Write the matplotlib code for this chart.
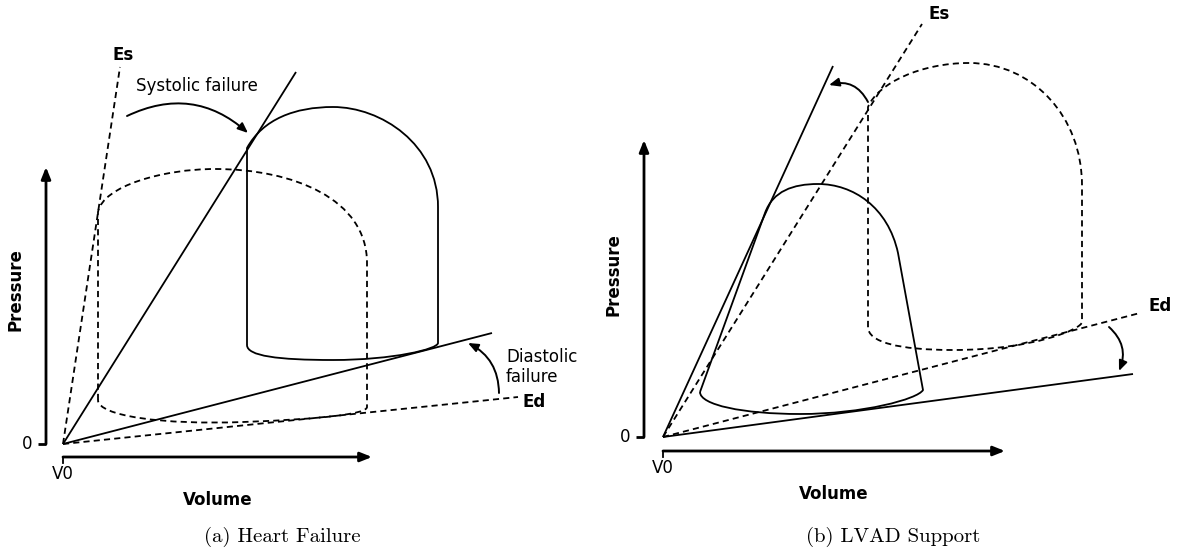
import matplotlib.pyplot as plt
from matplotlib.path import Path
from matplotlib.patches import PathPatch, FancyArrowPatch

# Coordinates are (volume, pressure) relative to (V0, 0), one unit per pixel.
# A loop is a start point followed by segments: one point = straight line,
# three points = cubic Bezier (two controls + end point).

# (a) Heart failure
hf_es_end = (57, 377)          # normal ESPVR (dashed)
hf_es_fail_end = (233, 372)    # depressed ESPVR (solid)
hf_ed_end = (455, 47)          # normal EDPVR (dashed)
hf_ed_fail_end = (429, 111)    # stiffer EDPVR (solid)
hf_normal_loop = [(35, 44),
                  [(35, 232)],
                  [(40, 258), (100, 275), (152, 275)],
                  [(230, 275), (304, 245), (304, 181)],
                  [(304, 37)],
                  [(304, 30), (260, 25), (180, 22)],
                  [(100, 19), (35, 28), (35, 44)]]
hf_fail_loop = [(184, 99),
                [(184, 296)],
                [(200, 325), (232, 337), (270, 337)],
                [(318, 337), (375, 300), (375, 237)],
                [(375, 101)],
                [(375, 95), (330, 84), (270, 84)],
                [(215, 84), (184, 88), (184, 99)]]

# (b) LVAD support
lv_es_end = (259, 413)
lv_es_new_end = (170, 371)
lv_ed_end = (477, 124)
lv_ed_new_end = (470, 63)
lv_base_loop = [(205, 110),
                [(205, 330)],
                [(215, 354), (258, 374), (306, 374)],
                [(370, 374), (419, 320), (419, 252)],
                [(419, 115)],
                [(419, 108), (370, 87), (290, 87)],
                [(235, 87), (205, 95), (205, 110)]]
lv_assist_loop = [(37, 45),
                  [(102, 224)],
                  [(110, 246), (130, 253), (155, 253)],
                  [(190, 253), (225, 230), (235, 184)],
                  [(260, 47)],
                  [(255, 38), (200, 23), (137, 23)],
                  [(80, 23), (37, 32), (37, 45)]]

DASH = (0, (3.4, 2.3))
LW = 1.3
FS = 12


def loop_path(spec):
    verts = [spec[0]]
    codes = [Path.MOVETO]
    for seg in spec[1:]:
        verts += seg
        codes += [Path.LINETO] if len(seg) == 1 else [Path.CURVE4] * 3
    return Path(verts, codes)


def draw_loop(ax, spec, ls):
    ax.add_patch(PathPatch(loop_path(spec), fill=False, lw=LW, ls=ls,
                           edgecolor='black', capstyle='butt'))


def ray(ax, end, ls):
    ax.plot([0, end[0]], [0, end[1]], color='black', lw=LW, ls=ls,
            solid_capstyle='butt')


def curved_arrow(ax, start, tip, rad):
    ax.add_patch(FancyArrowPatch(start, tip, connectionstyle=f'arc3,rad={rad}',
                                 arrowstyle='-|>,head_length=0.6,head_width=0.25',
                                 mutation_scale=10, lw=1.4, color='black',
                                 shrinkA=0, shrinkB=0))


def axis_arrow(ax, start, tip):
    ax.annotate('', xy=tip, xytext=start,
                arrowprops=dict(arrowstyle='-|>,head_length=0.7,head_width=0.28',
                                mutation_scale=10, lw=2.0, color='black',
                                shrinkA=0, shrinkB=0))


def frame(ax, y_axis_v, y_top, x_axis_p, x_right, label_p, cap_xy, caption):
    # pressure axis with its zero tick
    axis_arrow(ax, (y_axis_v, 0), (y_axis_v, y_top))
    ax.plot([y_axis_v - 8, y_axis_v], [0, 0], color='black', lw=2.0,
            solid_capstyle='butt')
    ax.text(y_axis_v - 19, 0, '0', ha='center', va='center', fontsize=FS)
    # volume axis with the V0 tick
    axis_arrow(ax, (0, x_axis_p), (x_right, x_axis_p))
    ax.plot([0, 0], [x_axis_p, x_axis_p - 6], color='black', lw=1.3)
    ax.text(0, x_axis_p - 17, 'V0', ha='center', va='center', fontsize=FS)
    ax.text(x_right / 2, x_axis_p - 43, 'Volume', ha='center', va='center',
            fontsize=FS, fontweight='bold')
    ax.text(y_axis_v - 31, label_p, 'Pressure', ha='center', va='center',
            rotation=90, fontsize=FS, fontweight='bold')
    ax.text(cap_xy[0], cap_xy[1], caption, ha='center', va='center',
            fontsize=15, family='cmr10')


fig = plt.figure(figsize=(11.78, 5.53), dpi=100)

ax1 = fig.add_axes([0, 0, 0.5, 1])
ax1.set_xlim(-63, 526)
ax1.set_ylim(-109, 444)
ax1.axis('off')

ray(ax1, hf_es_end, DASH)
ray(ax1, hf_es_fail_end, '-')
ray(ax1, hf_ed_end, DASH)
ray(ax1, hf_ed_fail_end, '-')
draw_loop(ax1, hf_normal_loop, DASH)
draw_loop(ax1, hf_fail_loop, '-')
ax1.text(60, 389, 'Es', ha='center', va='center', fontsize=FS, fontweight='bold')
ax1.text(460, 42, 'Ed', ha='left', va='center', fontsize=FS, fontweight='bold')
ax1.text(134, 358, 'Systolic failure', ha='center', va='center', fontsize=FS)
ax1.text(443, 77, 'Diastolic\nfailure', ha='left', va='center', fontsize=FS,
         linespacing=1.2)
curved_arrow(ax1, (64, 328), (185, 311), -0.33)
curved_arrow(ax1, (436, 51), (405, 101), 0.3)
frame(ax1, -17, 277, -13, 309, 154, (219, -93), '(a) Heart Failure')

ax2 = fig.add_axes([0.5, 0, 0.5, 1])
ax2.set_xlim(-74, 515)
ax2.set_ylim(-116, 437)
ax2.axis('off')

ray(ax2, lv_es_end, DASH)
ray(ax2, lv_es_new_end, '-')
ray(ax2, lv_ed_end, DASH)
ray(ax2, lv_ed_new_end, '-')
draw_loop(ax2, lv_base_loop, DASH)
draw_loop(ax2, lv_assist_loop, '-')
ax2.text(265, 423, 'Es', ha='left', va='center', fontsize=FS, fontweight='bold')
ax2.text(485, 131, 'Ed', ha='left', va='center', fontsize=FS, fontweight='bold')
curved_arrow(ax2, (205, 335), (166, 352), 0.4)
curved_arrow(ax2, (446, 110), (456, 66), -0.35)
frame(ax2, -19, 297, -14, 342, 162, (230, -100), '(b) LVAD Support')

fig.savefig('out.png', dpi=100)
